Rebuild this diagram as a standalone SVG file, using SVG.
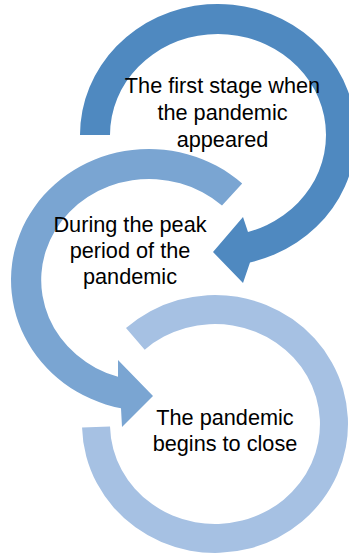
<svg xmlns="http://www.w3.org/2000/svg" width="349" height="556" viewBox="0 0 349 556">
<style>
.lbl{font-family:"Liberation Sans",Arial,sans-serif;font-size:21.7px;fill:#000;text-anchor:middle}
.a1{fill:#4F89C0}
.a2{fill:#7AA5D2}
.a3{fill:#A6C1E3}
</style>
<rect width="349" height="556" fill="#fff"/>
<g id="connectors"></g>
<g id="node3">
<path class="a3" d="M 126,328.1 A 133 129 0 1 1 82.05,427.4 L 110,426.6 A 105 100 0 1 0 144.7,349.7 Z"/>
<text class="lbl"><tspan x="225" y="425">The pandemic</tspan><tspan x="225" y="451">begins to close</tspan></text>
</g>
<g id="node2">
<path class="a2" d="M 242.2,183.4 A 138 131 0 1 0 121,408.3 L 122,427 L 153,396 L 118,360 L 118,376.8 A 108 101 0 1 1 222,205.5 Z"/>
<text class="lbl"><tspan x="130" y="232">During the peak</tspan><tspan x="130" y="258">period of the</tspan><tspan x="130" y="284">pandemic</tspan></text>
</g>
<g id="node1">
<path class="a1" d="M 80,135 A 138 131 0 1 1 250,262.4 L 243,283 L 213,252 L 243,217 L 248,232 A 108 101 0 1 0 110,135 Z"/>
<text class="lbl"><tspan x="222.5" y="93">The first stage when</tspan><tspan x="222.5" y="120">the pandemic</tspan><tspan x="222.5" y="147">appeared</tspan></text>
</g>
</svg>
